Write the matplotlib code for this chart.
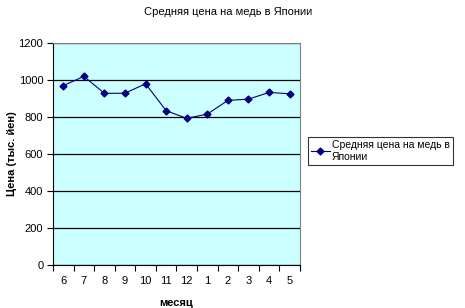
import numpy as np
import matplotlib
matplotlib.use('Agg')
import matplotlib.pyplot as plt

# data
months = ['6', '7', '8', '9', '10', '11', '12', '1', '2', '3', '4', '5']
price = [970, 1020, 928, 929, 980, 834, 793, 816, 890, 897, 933, 926]
series_name = 'Средняя цена на медь в\nЯпонии'

plt.rcParams['font.family'] = ['Liberation Sans', 'DejaVu Sans']

fig = plt.figure(figsize=(4.65, 3.08), dpi=100)
ax = fig.add_axes([0.114, 0.140, 0.531, 0.720])
ax.set_facecolor('#ccffff')

x = np.arange(len(months))
line, = ax.plot(x, price, color='#000080', lw=0.8, marker='D', ms=3.5,
                mfc='#000080', mec='#000080')

ax.set_ylim(0, 1200)
ax.set_yticks(np.arange(0, 1201, 200))
ax.yaxis.grid(True, color='black', lw=0.9)
ax.set_axisbelow(True)

ax.set_xlim(-0.5, len(months) - 0.5)
ax.set_xticks(np.arange(-0.5, len(months), 1.0))
ax.set_xticklabels([])
ax.set_xticks(x, minor=True)
ax.set_xticklabels(months, minor=True)
ax.tick_params(axis='x', which='minor', length=0, pad=8, labelsize=8)
ax.tick_params(axis='x', which='major', length=4, direction='out', color='black')
ax.tick_params(axis='y', length=4, direction='out', labelsize=8, pad=3)

for s in ['top', 'right']:
    ax.spines[s].set_color('#808080')
for s in ['left', 'bottom']:
    ax.spines[s].set_color('black')

fig.text(12 / 465, 1 - 154 / 308, 'Цена (тыс. йен)', rotation=90, ha='center', va='center',
         fontsize=8, fontweight='bold')
ax.set_xlabel('месяц', fontsize=8, fontweight='bold', labelpad=9)
fig.text(0.49, 0.96, 'Средняя цена на медь в Японии', ha='center', va='center', fontsize=8)

leg = fig.legend([line], [series_name], loc='upper left', bbox_to_anchor=(0.662, 0.555),
                 fontsize=7.5, frameon=True, fancybox=False, edgecolor='black',
                 handlelength=1.8, borderpad=0.3, labelspacing=0.2, handletextpad=0.2,
                 borderaxespad=0)
leg.get_frame().set_linewidth(0.8)

fig.savefig('out.png', dpi=100)
